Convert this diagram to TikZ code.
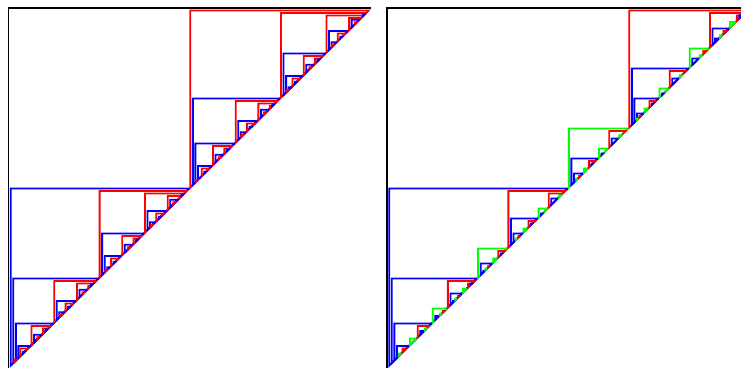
\documentclass[tikz,border=0pt]{standalone}
\usepackage{tikz}

\tikzset{
  frame/.style={black, line width=1.6pt, line join=miter},
  cell/.style={line width=1.8pt, line join=miter},
}
\newcommand\gap{2.5}
\newcommand\rim{0.6}

% one corner: colour, start on the diagonal, size, left inset, top inset
\newcommand\cornerL[5]{%
  \pgfmathparse{#3-#4-#5>1.2 ? 1 : 0}%
  \ifnum\pgfmathresult=1
  \draw[cell,#1] ({#2+#4},{#2+#4}) -- ({#2+#4},{#2+#3-#5}) -- ({#2+#3-#5},{#2+#3-#5}) -- cycle;
  \fi}

% split in two halves: start, size, left inset, top inset
\newcommand\halves[4]{%
  \ifdim#2pt>5pt
  \begingroup
    \pgfmathsetmacro\hs{#2/2}%
    \pgfmathsetmacro\li{#3+\gap}%
    \pgfmathsetmacro\ti{min(\rim,0.2*\hs)}%
    \edef\next{\noexpand\cornerL{blue}{#1}{\hs}{\li}{\ti}\noexpand\halves{#1}{\hs}{\li}{\ti}}\next
    \pgfmathsetmacro\st{#1+\hs}%
    \pgfmathsetmacro\li{min(\rim,0.2*\hs)}%
    \pgfmathsetmacro\ti{#4+\gap}%
    \edef\next{\noexpand\cornerL{red}{\st}{\hs}{\li}{\ti}\noexpand\halves{\st}{\hs}{\li}{\ti}}\next
  \endgroup
  \fi}

% split in 1/2, 1/6, 1/3: start, size, left inset, top inset
\newcommand\thirds[4]{%
  \ifdim#2pt>9pt
  \begingroup
    \pgfmathsetmacro\hs{#2/2}%
    \pgfmathsetmacro\li{#3+\gap}%
    \pgfmathsetmacro\ti{min(\rim,0.2*\hs)}%
    \edef\next{\noexpand\cornerL{blue}{#1}{\hs}{\li}{\ti}\noexpand\thirds{#1}{\hs}{\li}{\ti}}\next
    \pgfmathsetmacro\hs{#2/6}%
    \pgfmathsetmacro\st{#1+#2/2}%
    \pgfmathsetmacro\li{min(\rim,0.2*\hs)}%
    \edef\next{\noexpand\cornerL{green}{\st}{\hs}{\li}{\li}\noexpand\thirds{\st}{\hs}{\li}{\li}}\next
    \pgfmathsetmacro\hs{#2/3}%
    \pgfmathsetmacro\st{#1+2*#2/3}%
    \pgfmathsetmacro\li{min(\rim,0.2*\hs)}%
    \pgfmathsetmacro\ti{#4+\gap}%
    \edef\next{\noexpand\cornerL{red}{\st}{\hs}{\li}{\ti}\noexpand\thirds{\st}{\hs}{\li}{\ti}}\next
  \endgroup
  \fi}

\begin{document}
\begin{tikzpicture}[x=1pt,y=1pt]
  \useasboundingbox (0,0) rectangle (741,369);
  \clip (0,0) rectangle (741,369);
  \fill[white] (0,0) rectangle (741,369);

  \begin{scope}[shift={(8.3,1)},xscale=1.008]
    \draw[frame] (0,0) -- (0,360) -- (360,360);
    \halves{0}{360}{0}{0}
  \end{scope}

  \begin{scope}[shift={(386.8,1)},xscale=1.008]
    \draw[frame] (0,0) -- (0,360) -- (360,360);
    \thirds{0}{360}{0}{0}
  \end{scope}
\end{tikzpicture}
\end{document}
